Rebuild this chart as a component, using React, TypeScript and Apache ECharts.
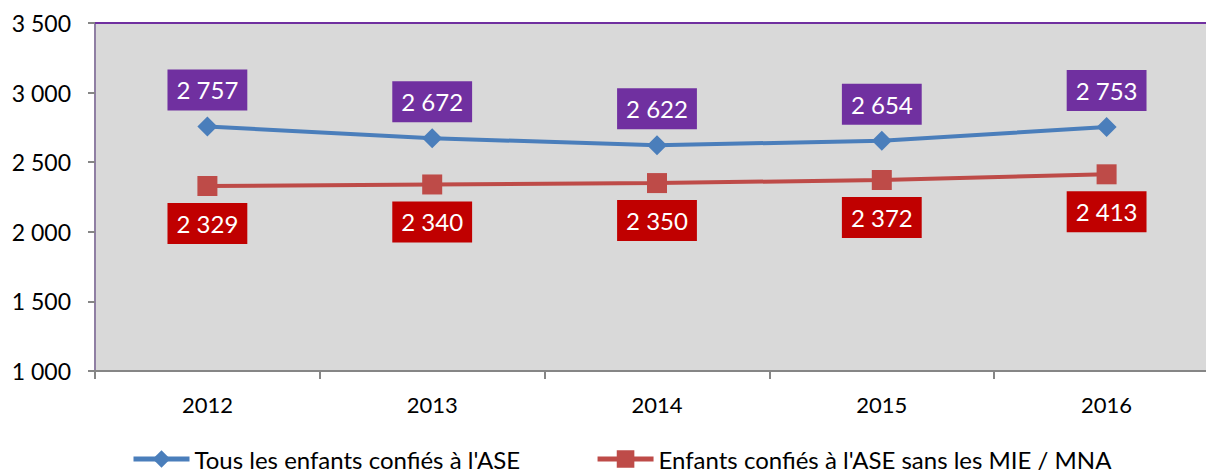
import React, { useEffect, useRef } from "react";
import * as echarts from "echarts";

const categories = ["2012", "2013", "2014", "2015", "2016"];
const seriesAllName = "Tous les enfants confiés à l'ASE";
const seriesAllValues = [2757, 2672, 2622, 2654, 2753];
const seriesNoMnaName = "Enfants confiés à l'ASE sans les MIE / MNA";
const seriesNoMnaValues = [2329, 2340, 2350, 2372, 2413];
const yMin = 1000;
const yMax = 3500;
const yStep = 500;

const FONT = "Lato, 'Open Sans', sans-serif";

const fmt = (v: number) => String(Math.round(v)).replace(/\B(?=(\d{3})+(?!\d))/g, " ");

export default function App() {
  const ref = useRef<HTMLDivElement>(null);
  useEffect(() => {
    if (!ref.current) return;
    const chart = echarts.init(ref.current, undefined, { renderer: "svg" });
    chart.setOption({
      animation: false,
      textStyle: { fontFamily: FONT },
      grid: {
        show: true,
        left: 95,
        top: 23,
        height: 348,
        width: 1124,
        backgroundColor: "#d9d9d9",
        borderWidth: 0,
      },
      legend: {
        left: 131,
        top: 447,
        padding: 0,
        itemWidth: 56,
        itemHeight: 22,
        itemGap: 75,
        lineStyle: { width: 5 },
        textStyle: { fontSize: 24, lineHeight: 22, color: "#000", fontFamily: FONT },
        data: [seriesAllName, seriesNoMnaName],
      },
      xAxis: [
        {
          type: "category",
          data: categories,
          boundaryGap: true,
          axisLine: { lineStyle: { color: "#868686", width: 2 } },
          axisTick: { show: true, length: 8, lineStyle: { color: "#868686", width: 2 } },
          axisLabel: { color: "#000", fontSize: 22, margin: 22, fontFamily: FONT },
          splitLine: { show: false },
        },
        {
          type: "category",
          position: "top",
          data: categories,
          axisLine: { show: true, lineStyle: { color: "#7030A0", width: 2 } },
          axisTick: { show: false },
          axisLabel: { show: false },
        },
      ],
      yAxis: {
        type: "value",
        min: yMin,
        max: yMax,
        interval: yStep,
        axisLine: { show: true, lineStyle: { color: "#8f7fa3", width: 2 } },
        axisTick: { show: true, length: 7, lineStyle: { color: "#868686", width: 2 } },
        axisLabel: {
          color: "#000",
          fontSize: 23,
          margin: 24,
          fontFamily: FONT,
          formatter: (v: number) => fmt(v),
        },
        splitLine: { show: false },
      },
      series: [
        {
          name: seriesAllName,
          type: "line",
          data: seriesAllValues,
          symbol: "diamond",
          symbolSize: 20,
          lineStyle: { color: "#4a7ebb", width: 4 },
          itemStyle: { color: "#4a7ebb" },
          label: {
            show: true,
            position: "top",
            distance: 6,
            color: "#fff",
            fontSize: 24,
            lineHeight: 25,
            fontFamily: FONT,
            backgroundColor: "#7030A0",
            padding: [8, 9, 8, 9],
            formatter: (p: any) => fmt(p.value),
          },
        },
        {
          name: seriesNoMnaName,
          type: "line",
          data: seriesNoMnaValues,
          symbol: "rect",
          symbolSize: 20,
          lineStyle: { color: "#be4b48", width: 4 },
          itemStyle: { color: "#be4b48" },
          label: {
            show: true,
            position: "bottom",
            distance: 7,
            color: "#fff",
            fontSize: 24,
            lineHeight: 25,
            fontFamily: FONT,
            backgroundColor: "#C00000",
            padding: [8, 9, 8, 9],
            formatter: (p: any) => fmt(p.value),
          },
        },
      ],
    });
    return () => chart.dispose();
  }, []);
  return (
    <div
      ref={ref}
      style={{ position: "fixed", left: 0, top: 0, width: 1220, height: 472, background: "#fff" }}
    />
  );
}
